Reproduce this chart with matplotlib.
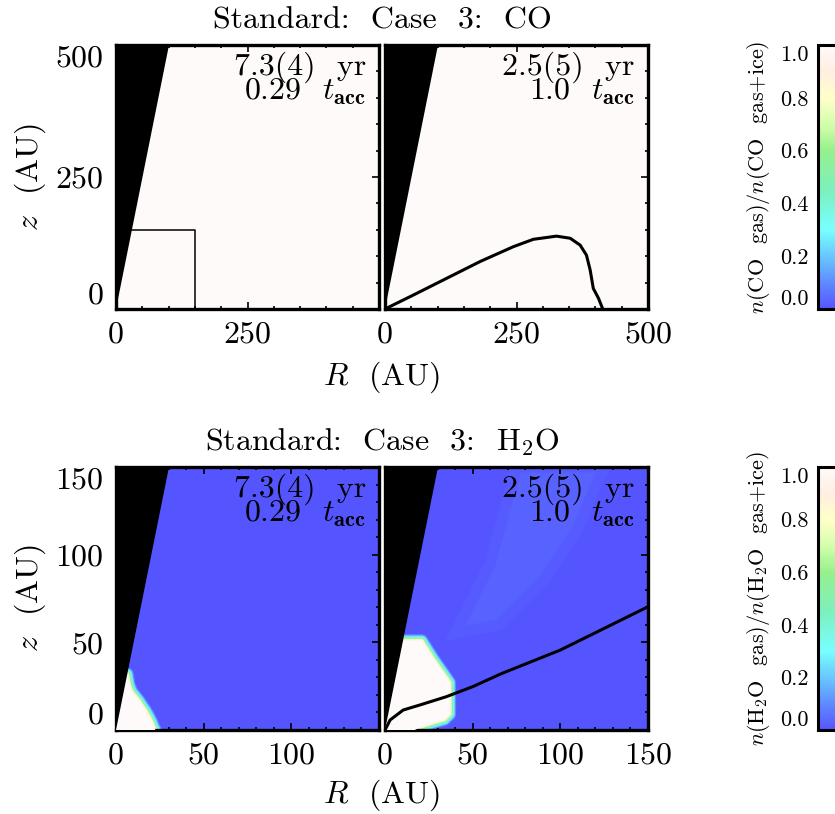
import numpy as np
import matplotlib
matplotlib.use("Agg")
import matplotlib.pyplot as plt
from matplotlib.colors import LinearSegmentedColormap, Normalize
from matplotlib.cm import ScalarMappable
from matplotlib.ticker import MultipleLocator

plt.rcParams['font.family'] = 'serif'
plt.rcParams['font.serif'] = ['cmr10', 'DejaVu Serif']
plt.rcParams['mathtext.fontset'] = 'cm'
plt.rcParams['axes.formatter.use_mathtext'] = True

# colour table (value, rgb)
cm_vals = [0.0, 0.1, 0.2, 0.3, 0.45, 0.6, 0.7, 0.8, 0.9, 1.0]
cm_rgb = [(85, 85, 255), (95, 140, 255), (105, 200, 255), (120, 255, 255),
          (125, 240, 190), (150, 240, 140), (210, 255, 170), (255, 255, 200),
          (255, 238, 225), (255, 250, 250)]
cmap = LinearSegmentedColormap.from_list(
    'idl', [(v, tuple(c / 255 for c in rgb)) for v, rgb in zip(cm_vals, cm_rgb)])

# geometry / data
wedge_slope = 5.0          # outer boundary z = 5 R
co_lim = 500
h2o_lim = 150

# CO, t = 0.29 t_acc : zoom box
box_R = [0, 150, 150]
box_z = [150, 150, 0]

# CO, t = 1.0 t_acc : snow line
co_line_R = [0, 54, 117, 181, 244, 282, 326, 352, 371, 383, 390, 396, 406, 414]
co_line_z = [0, 26.5, 58, 90, 118, 132, 138, 134, 121, 102, 74, 39, 20, 0]

# H2O sublimated region, t = 0.29 t_acc
h2o_a_R = [0, 0, 6.5, 7.5, 9, 11, 13, 15, 17, 19, 20.5, 21.5, 22.5, 22.5]
h2o_a_z = [-5, 32, 32, 26, 22, 19.5, 17, 14, 11, 7.5, 4.5, 2, 0, -5]

# H2O sublimated region, t = 1.0 t_acc
h2o_b_R = [0, 0, 12, 21, 28, 35, 37, 37, 34, 27, 21, 17, 17]
h2o_b_z = [-5, 51, 51, 51, 40, 30, 27, 9, 6, 4, 2, 0, -5]

# slightly elevated gas fraction band, t = 1.0 t_acc
band_R = [40, 60, 75, 125, 110, 90, 65]
band_z = [55, 95, 150, 150, 115, 85, 60]
band_val = 0.025

# H2O snow line, t = 1.0 t_acc
h2o_line_R = [0, 1, 2.9, 6.7, 10.4, 20, 35, 50, 66, 100, 150]
h2o_line_z = [0, 1.9, 5.7, 8.6, 11.4, 14.3, 19, 24.7, 32, 45.6, 70.3]

cb_ticks = [0.0, 0.2, 0.4, 0.6, 0.8, 1.0]

W, H = 835, 814
FS = 23
fig = plt.figure(figsize=(W / 100, H / 100), dpi=100)

def px_axes(x0, y0, x1, y1):
    return fig.add_axes([x0 / W, 1 - y1 / H, (x1 - x0) / W, (y1 - y0) / H])

def style(ax, lim, major, minor, left):
    ticks = list(range(0, lim + 1, major))
    ax.set_xlim(0, lim)
    ax.set_ylim(0, lim)
    ax.set_xticks(ticks)
    ax.set_yticks(ticks)
    ax.xaxis.set_minor_locator(MultipleLocator(minor))
    ax.yaxis.set_minor_locator(MultipleLocator(minor))
    ax.tick_params(which='both', direction='in', top=True, right=True,
                   labelsize=FS, width=1.2)
    ax.tick_params(which='major', length=5, pad=9)
    ax.tick_params(which='minor', length=2.5)
    if left:
        ax.set_xticklabels([str(t) for t in ticks[:-1]] + [''])
        ax.set_yticklabels([str(t) for t in ticks])
        yt = ax.yaxis.get_major_ticks()
        yt[0].label1.set_va('bottom')
        yt[-1].label1.set_va('top')
    else:
        ax.set_xticklabels([str(t) for t in ticks])
        ax.set_yticklabels([])
    for s in ax.spines.values():
        s.set_linewidth(2.4)

def wedge(ax, lim):
    ax.fill([0, 0, lim / wedge_slope], [0, lim, lim], color='black', zorder=5, lw=0)

def label(ax, t1, t2):
    ax.text(0.95, 0.886, t1, transform=ax.transAxes, ha='right', va='baseline',
            fontsize=FS, zorder=10)
    ax.text(0.95, 0.792, t2, transform=ax.transAxes, ha='right', va='baseline',
            fontsize=FS, zorder=10)

def region(ax, R, z):
    for lw, v in zip([9.0, 7.4, 5.8, 4.2, 2.6, 1.2], [0.1, 0.22, 0.35, 0.55, 0.75, 0.9]):
        ax.fill(R, z, facecolor=cmap(v), edgecolor=cmap(v), lw=lw,
                joinstyle='round', zorder=2)
    ax.fill(R, z, facecolor=cmap(1.0), lw=0, zorder=3)

# ---- top row: CO ----
ax1 = px_axes(116, 45, 379, 309)
ax2 = px_axes(385, 45, 648, 309)
for ax in (ax1, ax2):
    ax.set_facecolor(cmap(1.0))
    wedge(ax, co_lim)
style(ax1, co_lim, 250, 50, True)
style(ax2, co_lim, 250, 50, False)
ax1.plot(box_R, box_z, color='black', lw=1.1, zorder=4)
ax2.plot(co_line_R, co_line_z, color='black', lw=2.2, zorder=6)
label(ax1, '7.3(4)  yr', r'0.29  $t_{\mathbf{acc}}$')
label(ax2, '2.5(5)  yr', r'1.0  $t_{\mathbf{acc}}$')

# ---- bottom row: H2O ----
ax3 = px_axes(116, 467, 379, 730)
ax4 = px_axes(385, 467, 648, 730)
for ax in (ax3, ax4):
    ax.set_facecolor(cmap(0.0))
    wedge(ax, h2o_lim)
style(ax3, h2o_lim, 50, 10, True)
style(ax4, h2o_lim, 50, 10, False)
ax4.fill(band_R, band_z, facecolor=cmap(band_val), edgecolor=cmap(band_val / 2),
         lw=8, zorder=1)
region(ax3, h2o_a_R, h2o_a_z)
region(ax4, h2o_b_R, h2o_b_z)
ax4.plot(h2o_line_R, h2o_line_z, color='black', lw=2.2, zorder=6)
label(ax3, '7.3(4)  yr', r'0.29  $t_{\mathbf{acc}}$')
label(ax4, '2.5(5)  yr', r'1.0  $t_{\mathbf{acc}}$')

# titles and axis labels
fig.text(382 / W, 1 - 21 / H, 'Standard:  Case  3:  CO',
         ha='center', va='center', fontsize=FS)
fig.text(382 / W, 1 - 442 / H, r'Standard:  Case  3:  H$_2$O',
         ha='center', va='center', fontsize=FS)
fig.text(382 / W, 1 - 377 / H, r'$R$  (AU)', ha='center', va='center', fontsize=FS)
fig.text(382 / W, 1 - 795 / H, r'$R$  (AU)', ha='center', va='center', fontsize=FS)
fig.text(30 / W, 1 - 177 / H, r'$z$  (AU)', ha='center', va='center',
         rotation=90, fontsize=FS)
fig.text(30 / W, 1 - 598 / H, r'$z$  (AU)', ha='center', va='center',
         rotation=90, fontsize=FS)

# colour bars
norm = Normalize(0, 1)
cb_labels = [r'$n$(CO  gas)/$n$(CO  gas+ice)',
             r'$n$(H$_2$O  gas)/$n$(H$_2$O  gas+ice)']
for (y0, y1), lab in zip([(45, 309), (467, 730)], cb_labels):
    cax = px_axes(818, y0, 860, y1)
    cb = fig.colorbar(ScalarMappable(norm=norm, cmap=cmap), cax=cax)
    cb.set_ticks(cb_ticks)
    cb.ax.yaxis.set_ticks_position('left')
    cb.ax.tick_params(length=0, labelsize=16, pad=7)
    cb.ax.set_yticklabels(['%.1f' % t for t in cb_ticks])
    ct = cb.ax.yaxis.get_major_ticks()
    ct[0].label1.set_va('bottom')
    ct[-1].label1.set_va('top')
    cb.outline.set_linewidth(2.2)
    fig.text(758 / W, 1 - (y0 + y1) / 2 / H, lab, ha='center', va='center',
             rotation=90, fontsize=16)

fig.savefig('out.png', dpi=100)
